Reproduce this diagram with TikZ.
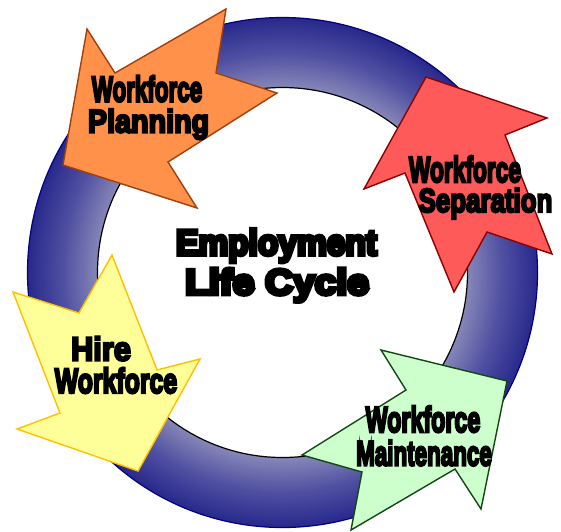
\documentclass[tikz,border=0pt]{standalone}
\usepackage{fontspec}
\usepackage{graphicx}
\newfontfamily\lblfont[FakeBold=7]{Liberation Sans Bold}
\newfontfamily\ctrfont[FakeBold=11]{Liberation Sans Bold}
\definecolor{ringdark}{RGB}{40,40,140}
\definecolor{ringmid}{RGB}{80,80,162}
\definecolor{ringlight}{RGB}{135,135,185}
\definecolor{ringedge}{RGB}{0,0,128}
\definecolor{orgfill}{RGB}{255,145,75}
\definecolor{orgedge}{RGB}{160,64,10}
\definecolor{redfill}{RGB}{255,90,90}
\definecolor{rededge}{RGB}{139,0,0}
\definecolor{yelfill}{RGB}{255,255,153}
\definecolor{yeledge}{RGB}{255,192,0}
\definecolor{grnfill}{RGB}{204,255,204}
\definecolor{grnedge}{RGB}{20,70,20}
\pgfdeclareradialshading{ringshade}{\pgfpoint{0bp}{0bp}}{color(0bp)=(ringlight); color(18.1bp)=(ringlight); color(21.5bp)=(ringmid); color(25bp)=(ringdark); color(50bp)=(ringdark)}
\begin{document}
\begin{tikzpicture}[x=1pt,y=-1pt,
  blockarrow/.style={line width=1.4pt, line join=miter},
  lbl/.style={font=\lblfont\fontsize{35}{35}\selectfont, inner sep=0pt, anchor=base},
  ctr/.style={font=\ctrfont\fontsize{36}{36}\selectfont, inner sep=0pt, anchor=base}]
\useasboundingbox (0,0) rectangle (561,531);
\coordinate (C) at (282.5,272.5);
% ring
\shade[shading=ringshade] (C) circle[radius=255pt];
\draw[ringedge, line width=1.2pt] (C) circle[radius=255pt];
\filldraw[fill=white, draw=black, line width=1.2pt] (C) circle[radius=185pt];
% orange arrow
\filldraw[blockarrow, fill=orgfill, draw=orgedge]
  (63,165) -- (87,29) -- (115,73) -- (226,9) -- (216,73) -- (277,93) -- (168,162) -- (197,208) -- cycle;
% red arrow
\filldraw[blockarrow, fill=redfill, draw=rededge]
  (426,77) -- (547,118) -- (505,135) -- (552,254) -- (487,232) -- (454,292) -- (405,173) -- (364,189) -- cycle;
% yellow arrow
\filldraw[blockarrow, fill=yelfill, draw=yeledge]
  (138,471) -- (17,429) -- (60,413) -- (13,292) -- (79,313) -- (112,255) -- (157,370) -- (200,359) -- cycle;
% green arrow
\filldraw[blockarrow, fill=grnfill, draw=grnedge]
  (507,381) -- (381,350) -- (406,390) -- (302,455) -- (362,472) -- (351,530) -- (455,469) -- (481,509) -- cycle;
% labels
\node[lbl] (p1) at (147,101.5) {\scalebox{0.64}[1.02]{Workforce}};
\node[lbl] (p2) at (148.5,132.5) {\scalebox{0.82}[0.93]{Planning}};
\node[lbl] (s1) at (465,182) {\scalebox{0.65}[1.03]{Workforce}};
\node[lbl] (s2) at (485.5,212) {\scalebox{0.74}[0.95]{Separation}};
\node[lbl] (h1) at (101,360.5) {\scalebox{0.88}[0.95]{Hire}};
\node[lbl] (h2) at (116,393) {\scalebox{0.71}[1]{Workforce}};
\node[lbl] (m1) at (423,432) {\scalebox{0.665}[1.03]{Workforce}};
\node[lbl] (m2) at (424,465.5) {\scalebox{0.64}[1]{Maintenance}};
\node[ctr] (e1) at (276.5,255) {\scalebox{0.93}[1]{Employment}};
\node[ctr] (e2) at (277,294.5) {\scalebox{1.08}[1]{Life Cycle}};
\end{tikzpicture}
\end{document}
